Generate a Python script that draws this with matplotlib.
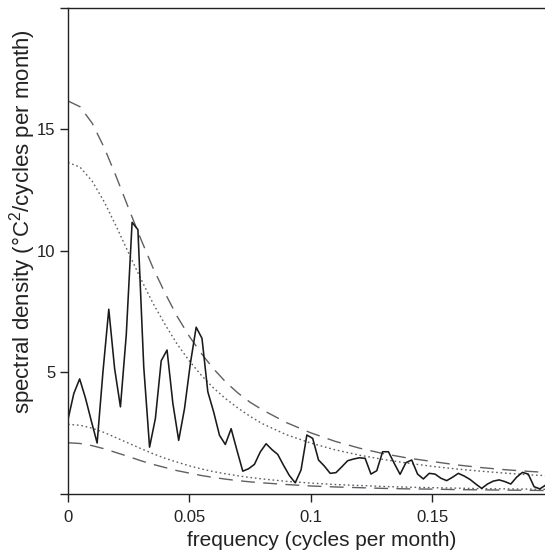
import numpy as np
import matplotlib
matplotlib.use("Agg")
import matplotlib.pyplot as plt

plt.rcParams['font.family'] = ['Liberation Sans', 'DejaVu Sans']
plt.rcParams['mathtext.fontset'] = 'custom'
plt.rcParams['mathtext.rm'] = 'Liberation Sans'

# raw spectral estimate, on an evenly spaced frequency grid (cycles per month)
freq_step = 0.0024
spectrum = [3.05, 4.12, 4.72, 3.93, 2.99, 2.08, 5.01, 7.59, 5.15, 3.57,
            6.53, 11.17, 10.87, 5.22, 1.91, 3.09, 5.47, 5.91, 3.71, 2.19,
            3.50, 5.35, 6.85, 6.39, 4.19, 3.36, 2.40, 2.02, 2.67, 1.78,
            0.92, 1.02, 1.20, 1.71, 2.05, 1.81, 1.61, 1.16, 0.74, 0.44,
            0.97, 2.41, 2.27, 1.38, 1.13, 0.83, 0.86, 1.10, 1.35, 1.42,
            1.47, 1.45, 0.80, 0.94, 1.72, 1.72, 1.24, 0.79, 1.27, 1.38,
            0.80, 0.60, 0.83, 0.80, 0.63, 0.53, 0.67, 0.83, 0.72, 0.58,
            0.39, 0.21, 0.39, 0.51, 0.56, 0.49, 0.39, 0.67, 0.87, 0.80,
            0.28, 0.19, 0.35]
spec_freq = np.arange(len(spectrum)) * freq_step

# confidence-band curves
band_freq = [0.0, 0.005, 0.01, 0.015, 0.02, 0.025, 0.03, 0.035, 0.04, 0.045,
             0.05, 0.055, 0.06, 0.065, 0.07, 0.075, 0.08, 0.09, 0.10, 0.11,
             0.12, 0.13, 0.14, 0.15, 0.16, 0.17, 0.18, 0.19, 0.20]
upper_dashed = [16.17, 15.93, 15.25, 14.23, 13.02, 11.74, 10.48, 9.30, 8.25, 7.29,
                6.47, 5.76, 5.13, 4.59, 4.14, 3.76, 3.45, 2.92, 2.50, 2.15,
                1.87, 1.64, 1.46, 1.32, 1.18, 1.07, 0.98, 0.91, 0.85]
upper_dotted = [13.64, 13.44, 12.86, 12.00, 10.98, 9.90, 8.84, 7.84, 6.96, 6.15,
                5.46, 4.86, 4.34, 3.90, 3.52, 3.18, 2.88, 2.42, 2.08, 1.80,
                1.58, 1.40, 1.25, 1.12, 1.01, 0.92, 0.84, 0.77, 0.72]
lower_dotted = [2.85, 2.81, 2.69, 2.51, 2.29, 2.07, 1.85, 1.64, 1.45, 1.29,
                1.14, 1.01, 0.90, 0.81, 0.73, 0.66, 0.60, 0.50, 0.43, 0.37,
                0.33, 0.29, 0.26, 0.24, 0.22, 0.20, 0.19, 0.18, 0.17]
lower_dashed = [2.09, 2.06, 1.97, 1.84, 1.68, 1.52, 1.35, 1.20, 1.07, 0.94,
                0.84, 0.74, 0.66, 0.59, 0.53, 0.48, 0.44, 0.37, 0.31, 0.27,
                0.24, 0.21, 0.19, 0.18, 0.16, 0.15, 0.14, 0.13, 0.12]

x_ticks = [0, 0.05, 0.1, 0.15]
x_tick_labels = ['0', '0.05', '0.1', '0.15']
y_ticks = [0, 5, 10, 15, 20]
y_tick_labels = ['', '5', '10', '15', '']

fig = plt.figure(figsize=(5.45, 5.54), dpi=100)
ax = fig.add_axes([68 / 545, 60.5 / 554, 1 - 68 / 545, 485.5 / 554])

band_col = '#5c6166'
ax.plot(band_freq, upper_dashed, color=band_col, lw=1.0, dashes=(10, 6))
ax.plot(band_freq, lower_dashed, color=band_col, lw=1.0, dashes=(10, 6))
ax.plot(band_freq, upper_dotted, color=band_col, lw=1.0, dashes=(1.2, 2.0))
ax.plot(band_freq, lower_dotted, color=band_col, lw=1.0, dashes=(1.2, 2.0))
ax.plot(spec_freq, spectrum, color='#1a1a1a', lw=1.15)

ax.set_xlim(0, 0.1965)
ax.set_ylim(0, 20)
ax.set_xticks(x_ticks)
ax.set_xticklabels(x_tick_labels)
ax.set_yticks(y_ticks)
ax.set_yticklabels(y_tick_labels)
ax.tick_params(axis='both', direction='out', length=6, width=1.0,
               labelsize=12, colors='#222222')
ax.tick_params(axis='x', pad=6)
ax.tick_params(axis='y', pad=3)
for s in ['left', 'bottom', 'top']:
    ax.spines[s].set_color('#222222')
    ax.spines[s].set_linewidth(1.0)
ax.spines['right'].set_visible(False)

fig.text(322 / 545, 1 - 541 / 554, 'frequency (cycles per month)',
         ha='center', va='center', fontsize=15, color='#222222')
fig.text(23 / 545, 1 - 222 / 554, 'spectral density (°C$^{2}$/cycles per month)',
         ha='center', va='center', rotation=90, fontsize=16, color='#222222')

fig.savefig('out.png', dpi=100)
